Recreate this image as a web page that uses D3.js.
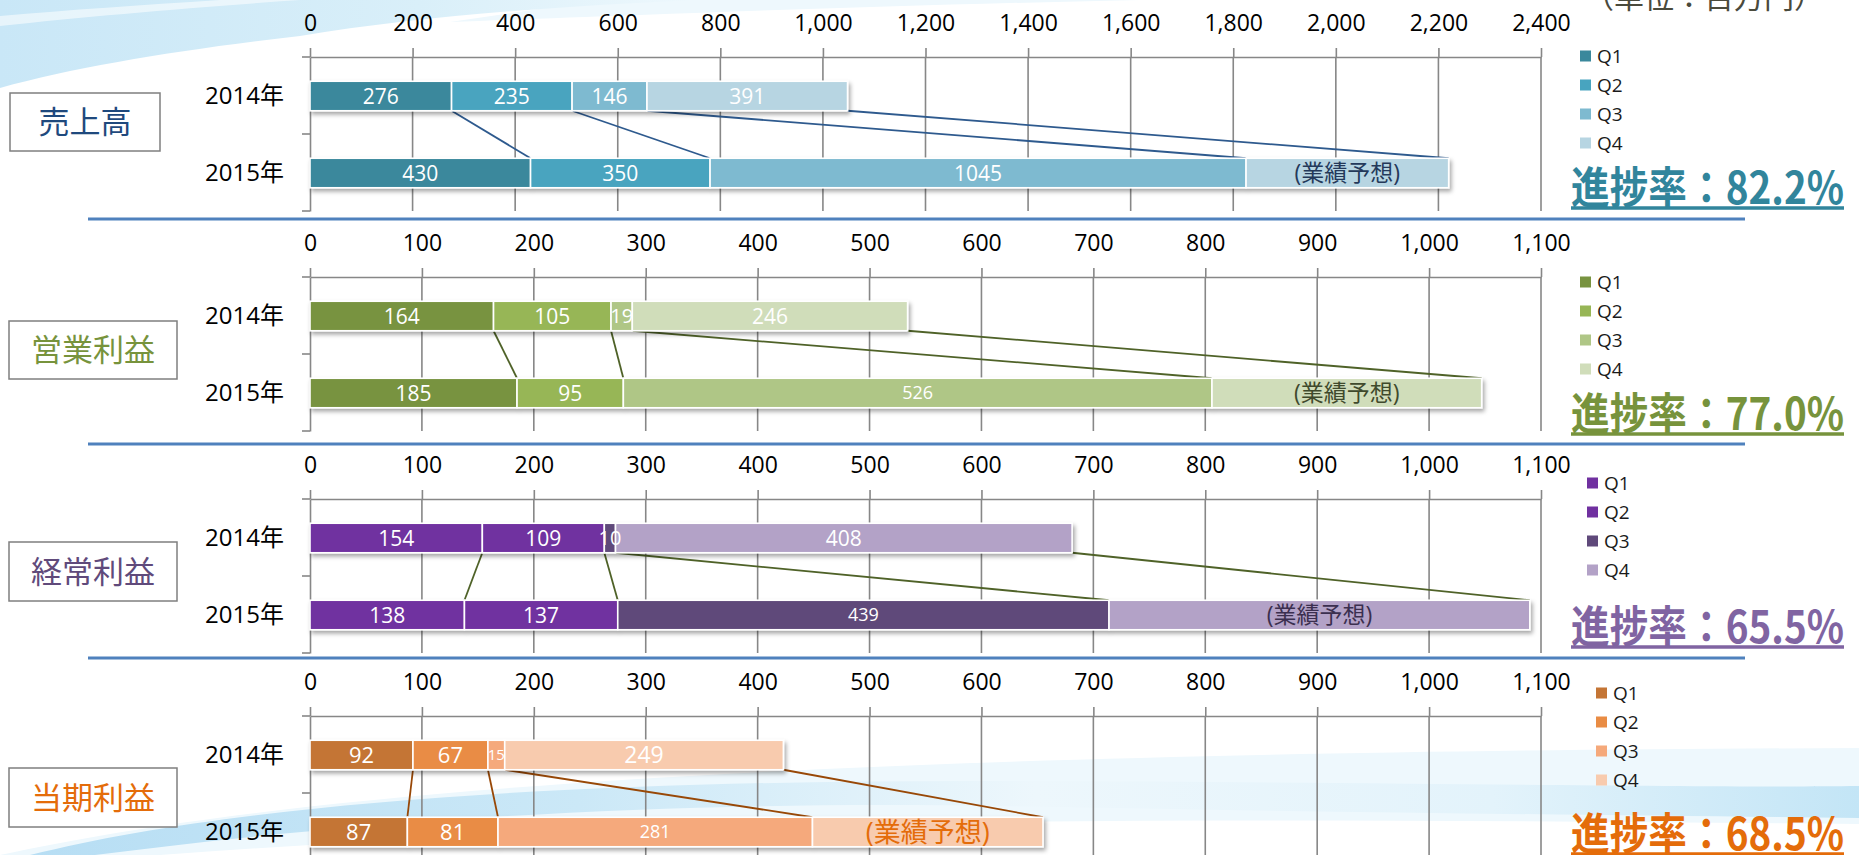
<!DOCTYPE html>
<html>
<head>
<meta charset="utf-8">
<script src="https://cdn.jsdelivr.net/npm/d3@7"></script>
<style>
  html, body { margin: 0; padding: 0; background: #fff; overflow: hidden; }
  svg { display: block; }
</style>
</head>
<body>
<svg id="chart" width="1859" height="855"></svg>
<script>
// ---- Quarterly results (millions of yen) ----
const years = ["2014年", "2015年"];
const quarters = ["Q1", "Q2", "Q3", "Q4"];

const salesTicks  = [0, 200, 400, 600, 800, 1000, 1200, 1400, 1600, 1800, 2000, 2200, 2400];
const profitTicks = [0, 100, 200, 300, 400, 500, 600, 700, 800, 900, 1000, 1100];

const sales2014 = [276, 235, 146, 391];
const sales2015 = [430, 350, 1045];
const salesForecast = 2220;          // full-year forecast 2015

const opProfit2014 = [164, 105, 19, 246];
const opProfit2015 = [185, 95, 526];
const opProfitForecast = 1047;

const ordProfit2014 = [154, 109, 10, 408];
const ordProfit2015 = [138, 137, 439];
const ordProfitForecast = 1090;

const netProfit2014 = [92, 67, 15, 249];
const netProfit2015 = [87, 81, 281];
const netProfitForecast = 655;

const panelTitles   = ["売上高", "営業利益", "経常利益", "当期利益"];
const progressRates = ["82.2%", "77.0%", "65.5%", "68.5%"];
const forecastLabel = "(業績予想)";
const unitLabel     = "（単位：百万円）";

// ---- fonts ----
const numFont = "'Open Sans', 'Noto Sans CJK JP', sans-serif";
const jpFont  = "'Noto Sans CJK JP', 'Noto Sans', sans-serif";

// ---- panel layout & styling ----
const panels = [
  { title: panelTitles[0], rate: progressRates[0], max: 2400, ticks: salesTicks,
    actual: sales2014, current: sales2015, forecast: salesForecast,
    y0: 57, box: [10, 93, 150, 58], legend: [1580, 56], rateY: 204,
    colors: ["#3A889C", "#48A4BF", "#7EBAD0", "#B7D5E2"],
    line: "#2E5A8E", accent: "#31859C", titleColor: "#1F497D", fcColor: "#24395A", fcSize: 23,
    sizes: [[21, 21, 21, 21], [21, 21, 21, 23]] },
  { title: panelTitles[1], rate: progressRates[1], max: 1100, ticks: profitTicks,
    actual: opProfit2014, current: opProfit2015, forecast: opProfitForecast,
    y0: 277, box: [9, 321, 168, 58], legend: [1580, 282], rateY: 430,
    colors: ["#789340", "#97B656", "#AFC686", "#D0DDBA"],
    line: "#4F6228", accent: "#77933C", titleColor: "#77933C", fcColor: "#3F4A2C", fcSize: 23,
    sizes: [[21, 21, 20, 21], [21, 21, 18, 23]] },
  { title: panelTitles[2], rate: progressRates[2], max: 1100, ticks: profitTicks,
    actual: ordProfit2014, current: ordProfit2015, forecast: ordProfitForecast,
    y0: 499, box: [9, 542, 168, 59], legend: [1587, 483], rateY: 643,
    colors: ["#7030A0", "#7030A0", "#5F497A", "#B3A2C7"],
    line: "#4F6228", accent: "#8064A2", titleColor: "#604A7B", fcColor: "#3B2F4F", fcSize: 23,
    sizes: [[21, 21, 20, 21], [21, 21, 18, 23]] },
  { title: panelTitles[3], rate: progressRates[3], max: 1100, ticks: profitTicks,
    actual: netProfit2014, current: netProfit2015, forecast: netProfitForecast,
    y0: 716, box: [9, 768, 168, 59], legend: [1596, 693], rateY: 850,
    colors: ["#C47535", "#E98C44", "#F5A97B", "#F8CBAE"],
    line: "#984807", accent: "#E46C0A", titleColor: "#E46C0A", fcColor: "#E46C0A", fcSize: 27,
    sizes: [[22, 22, 15, 23], [22, 22, 18, 27]] }
];

const X0 = 310, X1 = 1541;      // horizontal extent of every plot
const PLOT_H = 154;             // height of the category axis
const BAR_H = 29.5;

const svg = d3.select("#chart");
const defs = svg.append("defs");

// soft shadow under the bars
const shadow = defs.append("filter").attr("id", "barShadow")
  .attr("x", "-5%").attr("y", "-40%").attr("width", "115%").attr("height", "200%");
shadow.append("feDropShadow").attr("dx", 2).attr("dy", 3).attr("stdDeviation", 2)
  .attr("flood-color", "#000").attr("flood-opacity", 0.35);

// gradients for the decorative waves
const gTop = defs.append("linearGradient").attr("id", "gTop")
  .attr("x1", "0%").attr("y1", "0%").attr("x2", "100%").attr("y2", "0%");
gTop.append("stop").attr("offset", "0%").attr("stop-color", "#c9e7f7");
gTop.append("stop").attr("offset", "60%").attr("stop-color", "#d9eff9");
gTop.append("stop").attr("offset", "100%").attr("stop-color", "#eef8fd");

const gBot = defs.append("linearGradient").attr("id", "gBot")
  .attr("x1", "0%").attr("y1", "0%").attr("x2", "100%").attr("y2", "0%");
gBot.append("stop").attr("offset", "0%").attr("stop-color", "#b7def4");
gBot.append("stop").attr("offset", "30%").attr("stop-color", "#cbe8f7");
gBot.append("stop").attr("offset", "55%").attr("stop-color", "#edf7fc");
gBot.append("stop").attr("offset", "80%").attr("stop-color", "#e3f3fb");
gBot.append("stop").attr("offset", "100%").attr("stop-color", "#c3e5f6");

// ---- background waves ----
const bg = svg.append("g");
bg.append("path")
  .attr("d", "M600,0 H1140 C950,4 800,9 640,15 C560,18 500,20 450,22 Z")
  .attr("fill", "#eef8fd");
bg.append("path")
  .attr("d", "M0,0 H700 C560,6 420,16 300,36 C180,50 80,66 0,88 Z")
  .attr("fill", "url(#gTop)");
bg.append("path")
  .attr("d", "M0,26 C90,16 200,7 300,0 H220 C140,5 70,10 0,16 Z")
  .attr("fill", "#ffffff").attr("opacity", 0.55);
bg.append("path")
  .attr("d", "M0,855 C300,790 800,752 1859,748 L1859,824 C1200,818 700,815 160,855 Z")
  .attr("fill", "#eef8fd");
bg.append("path")
  .attr("d", "M30,855 C250,800 600,780 1000,781 C1400,782 1700,788 1859,786 L1859,818 C1600,815 1300,812 1000,806 C650,800 350,822 95,855 Z")
  .attr("fill", "url(#gBot)");

// ---- separators between the panels ----
[219, 444, 658].forEach(y => {
  svg.append("line").attr("x1", 88).attr("x2", 1745).attr("y1", y).attr("y2", y)
    .attr("stroke", "#4F81BD").attr("stroke-width", 3);
});

// ---- unit note (runs off the top edge) ----
svg.append("text").attr("x", 1704).attr("y", 8).attr("text-anchor", "middle")
  .attr("font-family", jpFont).attr("font-size", 30).attr("fill", "#4A4A3C")
  .text(unitLabel);

const AXIS_COLOR = "#878787";

panels.forEach(p => {
  const g = svg.append("g");
  const y0 = p.y0;

  const x = d3.scaleLinear().domain([0, p.max]).range([X0, X1]);
  const y = d3.scaleBand().domain(years).range([y0, y0 + PLOT_H]);
  const barY = yr => y(yr) + (y.bandwidth() - BAR_H) / 2 + 0.5;

  // stacked rows: last quarter of the current year is the forecast remainder
  const rowA = { year: years[0] };
  const rowB = { year: years[1] };
  quarters.forEach((q, i) => { rowA[q] = p.actual[i]; });
  quarters.forEach((q, i) => { rowB[q] = i < 3 ? p.current[i] : p.forecast - d3.sum(p.current); });
  const series = d3.stack().keys(quarters)([rowA, rowB]);

  // gridlines
  const gridBottom = Math.min(y0 + PLOT_H, 855);
  g.append("g").selectAll("line").data(p.ticks.slice(1)).join("line")
    .attr("x1", d => x(d)).attr("x2", d => x(d))
    .attr("y1", y0).attr("y2", gridBottom)
    .attr("stroke", AXIS_COLOR).attr("stroke-width", 1.6);

  // top value axis
  const top = g.append("g").attr("transform", `translate(0,${y0})`)
    .call(d3.axisTop(x).tickValues(p.ticks).tickFormat(d3.format(","))
      .tickSizeInner(9).tickSizeOuter(0).tickPadding(17));
  top.select(".domain").attr("stroke", AXIS_COLOR).attr("stroke-width", 1.6);
  top.selectAll(".tick line").attr("stroke", AXIS_COLOR).attr("stroke-width", 1.6);
  top.selectAll(".tick text").attr("font-family", numFont).attr("font-size", 23)
    .attr("fill", "#000");

  // left category axis
  const left = g.append("g").attr("transform", `translate(${X0},0)`)
    .call(d3.axisLeft(y).tickSize(0).tickPadding(26));
  left.select(".domain").attr("stroke", AXIS_COLOR).attr("stroke-width", 1.6);
  left.selectAll(".tick text").attr("font-family", numFont).attr("font-size", 24)
    .attr("fill", "#000").attr("dy", "0.36em");
  const bounds = [y0, y0 + y.bandwidth(), y0 + 2 * y.bandwidth()];
  g.append("g").selectAll("line").data(bounds).join("line")
    .attr("x1", X0 - 8).attr("x2", X0).attr("y1", d => d).attr("y2", d => d)
    .attr("stroke", AXIS_COLOR).attr("stroke-width", 1.6);

  // series connector lines between the two years
  g.append("g").selectAll("line").data(series).join("line")
    .attr("x1", s => x(s[0][1])).attr("y1", barY(years[0]) + BAR_H)
    .attr("x2", s => x(s[1][1])).attr("y2", barY(years[1]))
    .attr("stroke", p.line).attr("stroke-width", 1.8);

  // bars
  const bars = g.append("g").attr("filter", "url(#barShadow)");
  series.forEach((s, qi) => {
    bars.selectAll(null).data(s).join("rect")
      .attr("x", d => x(d[0])).attr("y", d => barY(d.data.year))
      .attr("width", d => x(d[1]) - x(d[0])).attr("height", BAR_H)
      .attr("fill", p.colors[qi]).attr("stroke", "#fff").attr("stroke-width", 1.6);
  });

  // value labels
  series.forEach((s, qi) => {
    s.forEach((d, yi) => {
      const isForecast = yi === 1 && qi === 3;
      g.append("text")
        .attr("x", (x(d[0]) + x(d[1])) / 2)
        .attr("y", barY(d.data.year) + BAR_H / 2)
        .attr("dy", "0.36em").attr("text-anchor", "middle")
        .attr("font-family", numFont)
        .attr("font-size", p.sizes[yi][qi])
        .attr("fill", isForecast ? p.fcColor : "#fff")
        .text(isForecast ? forecastLabel : d[1] - d[0]);
    });
  });

  // title box
  const [bx, by, bw, bh] = p.box;
  g.append("rect").attr("x", bx).attr("y", by).attr("width", bw).attr("height", bh)
    .attr("fill", "#fff").attr("stroke", "#7F7F7F").attr("stroke-width", 1.5);
  g.append("text").attr("x", bx + bw / 2).attr("y", by + bh / 2).attr("dy", "0.36em")
    .attr("text-anchor", "middle").attr("font-family", jpFont).attr("font-size", 31)
    .attr("fill", p.titleColor).text(p.title);

  // legend
  const [lx, ly] = p.legend;
  const leg = g.append("g").selectAll("g").data(quarters).join("g")
    .attr("transform", (d, i) => `translate(${lx},${ly + i * 29})`);
  leg.append("rect").attr("x", 0).attr("y", -5.5).attr("width", 11).attr("height", 11)
    .attr("fill", (d, i) => p.colors[i]);
  leg.append("text").attr("x", 17).attr("y", 0).attr("dy", "0.36em")
    .attr("font-family", numFont).attr("font-size", 19).attr("fill", "#1a1a1a")
    .text(d => d);

  // progress rate
  g.append("text").attr("x", 1571).attr("y", p.rateY)
    .attr("font-family", jpFont).attr("font-weight", 700).attr("font-size", 44)
    .attr("textLength", 273).attr("lengthAdjust", "spacingAndGlyphs")
    .attr("fill", p.accent).text("進捗率：" + p.rate);
  g.append("line").attr("x1", 1571).attr("x2", 1844)
    .attr("y1", p.rateY + 4).attr("y2", p.rateY + 4)
    .attr("stroke", p.accent).attr("stroke-width", 3.5);
});
</script>
</body>
</html>
